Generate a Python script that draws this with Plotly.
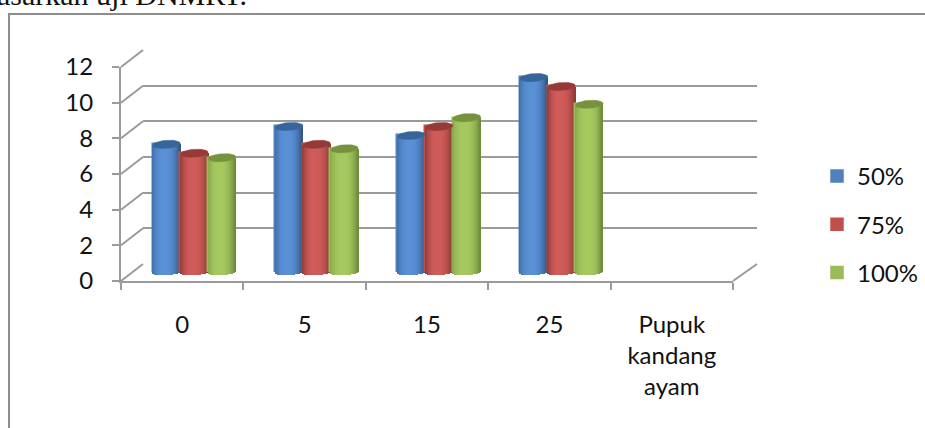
import math
import plotly.graph_objects as go

# Data
categories = ["0", "5", "15", "25", "Pupuk<br>kandang<br>ayam"]
series_names = ["50%", "75%", "100%"]
values_50 = [7.2, 8.2, 7.7, 10.95, None]
values_75 = [6.7, 7.2, 8.2, 10.45, None]
values_100 = [6.45, 6.95, 8.7, 9.45, None]
y_ticks = [0, 2, 4, 6, 8, 10, 12]

# Colours: centre, left edge, right edge, cap, flat
palette = [
    ("#5a90d6", "#3d70aa", "#2f5580", "#37659a", "#4F81BD"),
    ("#d05c59", "#8f3a38", "#8a3836", "#963a38", "#C0504D"),
    ("#a6c95f", "#88a84b", "#6c8838", "#76923C", "#9BBB59"),
]

W, H = 925, 428
GRID = "#9a9a9a"
FONT = "Lato"
TEXT = "#111111"
TICK_SIZE = 24

def px(x):
    return x / W

def py(y):
    return 1 - y / H

def mix(a, b, t):
    ca = [int(a[i:i + 2], 16) for i in (1, 3, 5)]
    cb = [int(b[i:i + 2], 16) for i in (1, 3, 5)]
    return "#%02x%02x%02x" % tuple(round(p + (q - p) * t) for p, q in zip(ca, cb))

fig = go.Figure()
positions = list(range(len(categories)))

# Back wall grid, front labelled axes and the plane holding the cylinders
fig.update_layout(
    width=W, height=H, autosize=False,
    margin=dict(l=0, r=0, t=0, b=0),
    paper_bgcolor="white", plot_bgcolor="rgba(0,0,0,0)",
    barmode="overlay", bargap=0,
    font=dict(family=FONT, size=TICK_SIZE, color=TEXT),
    showlegend=True,
    legend=dict(
        x=px(817), y=py(154), xanchor="left", yanchor="top",
        font=dict(family=FONT, size=TICK_SIZE, color=TEXT),
        tracegroupgap=14, traceorder="grouped",
        bgcolor="rgba(0,0,0,0)", itemclick=False,
    ),
    xaxis=dict(domain=[px(143), px(757)], range=[0, 1], visible=False, fixedrange=True),
    yaxis=dict(domain=[py(264), py(50)], range=[0, 12], tickvals=y_ticks, showticklabels=False,
               showgrid=True, gridcolor=GRID, gridwidth=2, zeroline=False, showline=False,
               ticks="", fixedrange=True, anchor="x"),
    xaxis2=dict(domain=[px(121), px(733)], type="category", categoryorder="array",
                categoryarray=categories, tickvals=categories, ticktext=categories,
                range=[-0.5, len(categories) - 0.5],
                tickson="boundaries", ticks="outside", ticklen=7, tickwidth=2, tickcolor=GRID,
                showline=True, linecolor=GRID, linewidth=2, showgrid=False, fixedrange=True,
                anchor="y2", tickfont=dict(family=FONT, size=TICK_SIZE, color=TEXT), tickangle=0,
                ticklabelstandoff=21, automargin=False),
    yaxis2=dict(domain=[py(281), py(67)], range=[0, 12], tickvals=y_ticks, ticks="outside",
                ticklen=7, tickwidth=2, tickcolor=GRID, showline=True, linecolor=GRID, linewidth=2,
                showgrid=False, zeroline=False, fixedrange=True, anchor="x2",
                tickfont=dict(family=FONT, size=TICK_SIZE, color=TEXT), ticklabelstandoff=14,
                automargin=False),
    xaxis3=dict(domain=[px(133), px(745)], range=[-0.5, len(categories) - 0.5],
                visible=False, fixedrange=True, anchor="y3"),
    yaxis3=dict(domain=[py(272.5 + 17.8), py(272.5 - 13 * 17.8)], range=[-1, 13], visible=False,
                fixedrange=True, anchor="x3"),
)

# Empty traces so both axis pairs are drawn
fig.add_trace(go.Scatter(x=categories, y=[None] * 5, xaxis="x2", yaxis="y2", showlegend=False, hoverinfo="skip"))
fig.add_trace(go.Scatter(x=[0, 1], y=[None, None], xaxis="x", yaxis="y", showlegend=False, hoverinfo="skip"))

# Cylinders: a solid bar per series, then narrow vertical strips that shade it
BAR_W = 27.7 / 122.4
RY = 4.0 / 17.8
RY_BASE = 2.8 / 17.8
TILT = 0.9 / 17.8
N_STRIPS = 28

for s, (name, vals) in enumerate(zip(series_names, [values_50, values_75, values_100])):
    centre, left, right, cap, solid = palette[s]
    start = -1.5 * BAR_W + s * BAR_W
    cats = positions[:4]
    nums = vals[:4]
    fig.add_trace(go.Bar(
        x=positions, y=vals, name=name, xaxis="x3", yaxis="y3",
        offset=start, width=BAR_W, legendgroup=name,
        marker=dict(color=solid, line=dict(color=solid, width=1.5)),
    ))
    for k in range(N_STRIPS):
        t = (k + 0.5) / N_STRIPS * 2 - 1
        arc = math.sqrt(1 - t * t)
        # light falls slightly left of centre
        d = t + 0.15
        if d < 0:
            colour = mix(centre, left, min(1, (-d / 0.85)) ** 2.2)
        else:
            colour = mix(centre, right, min(1, (d / 1.15)) ** 2.6)
        bases = [-RY_BASE * arc + TILT * t for _ in nums]
        tops = [v + TILT * t - RY * arc for v in nums]
        fig.add_trace(go.Bar(
            x=cats, y=[tp - b for tp, b in zip(tops, bases)], base=bases,
            xaxis="x3", yaxis="y3", showlegend=False, hoverinfo="skip",
            offset=start + k * BAR_W / N_STRIPS, width=BAR_W / N_STRIPS * 1.15,
            marker=dict(color=colour, line=dict(width=0)),
        ))
    # Top faces of the cylinders
    for c, v in zip(cats, nums):
        xs, ys = [], []
        for i in range(41):
            a = 2 * math.pi * i / 40
            xs.append(c + start + BAR_W / 2 + BAR_W / 2 * math.cos(a))
            ys.append(v + RY * math.sin(a) + TILT * math.cos(a))
        fig.add_trace(go.Scatter(
            x=xs, y=ys, mode="lines", fill="toself", fillcolor=cap,
            line=dict(color=cap, width=0.5), xaxis="x3", yaxis="y3",
            showlegend=False, hoverinfo="skip",
        ))

# Floor and side-wall edges, and the chart frame
shapes = [
    dict(type="rect", xref="paper", yref="paper", x0=px(9), x1=px(930), y0=py(435), y1=py(14),
         line=dict(color="#8c8c8c", width=2), layer="below"),
]
for i in range(len(y_ticks)):
    fy = 281 - i * (214 / 6)
    by = 264 - i * (214 / 6)
    shapes.append(dict(type="line", xref="paper", yref="paper", x0=px(121), x1=px(143),
                       y0=py(fy), y1=py(by), line=dict(color=GRID, width=2), layer="below"))
shapes.append(dict(type="line", xref="paper", yref="paper", x0=px(733), x1=px(757),
                   y0=py(281), y1=py(264), line=dict(color=GRID, width=2), layer="below"))
fig.update_layout(shapes=shapes)

# Line of body text above the chart frame
fig.add_annotation(
    xref="paper", yref="paper", x=px(-5), y=py(-24), xanchor="left", yanchor="top",
    text="asarkan uji DNMRT.", showarrow=False,
    font=dict(family="Liberation Serif", size=30, color="#111111"),
)

fig.write_html("out.html")
